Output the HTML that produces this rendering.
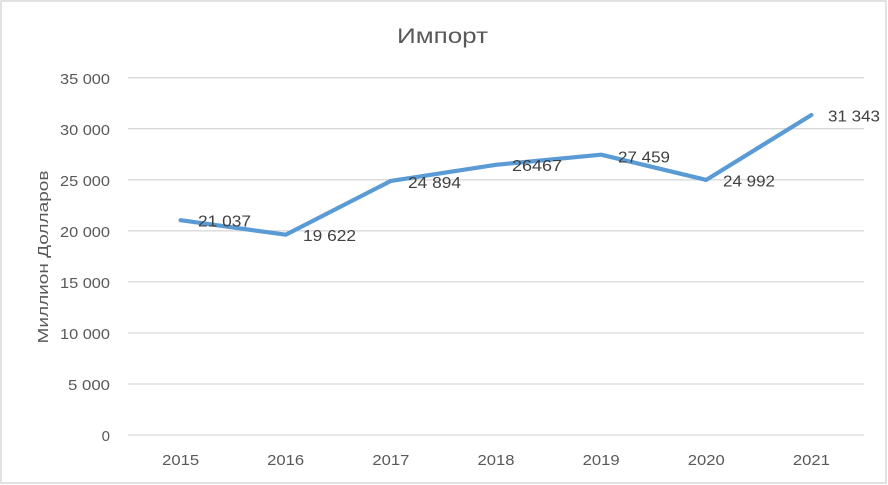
<!DOCTYPE html>
<html><head><meta charset="utf-8"><style>
html,body{margin:0;padding:0;background:#fff;}
svg{display:block;}
text{font-family:"Liberation Sans","DejaVu Sans",sans-serif;}
</style></head><body>
<svg width="888" height="485" viewBox="0 0 888 485" xmlns="http://www.w3.org/2000/svg">
<rect x="0" y="0" width="888" height="485" fill="#fff"/>
<rect x="1" y="1" width="885" height="482" fill="none" stroke="#d9d9d9" stroke-width="1.5"/>
<text x="442.5" y="43" text-anchor="middle" font-size="21" fill="#595959" textLength="91" lengthAdjust="spacingAndGlyphs">Импорт</text>
<g stroke="#d9d9d9" stroke-width="1.3">
<line x1="128" y1="435" x2="864" y2="435"/>
<line x1="128" y1="384" x2="864" y2="384"/>
<line x1="128" y1="333" x2="864" y2="333"/>
<line x1="128" y1="281.9" x2="864" y2="281.9"/>
<line x1="128" y1="230.8" x2="864" y2="230.8"/>
<line x1="128" y1="179.8" x2="864" y2="179.8"/>
<line x1="128" y1="128.7" x2="864" y2="128.7"/>
<line x1="128" y1="77.7" x2="864" y2="77.7"/>
</g>
<g font-size="15" fill="#595959" text-anchor="end">
<text x="110" y="441">0</text>
<text x="110" y="390" textLength="42" lengthAdjust="spacingAndGlyphs">5 000</text>
<text x="110" y="339" textLength="50" lengthAdjust="spacingAndGlyphs">10 000</text>
<text x="110" y="288" textLength="50" lengthAdjust="spacingAndGlyphs">15 000</text>
<text x="110" y="237" textLength="50" lengthAdjust="spacingAndGlyphs">20 000</text>
<text x="110" y="186" textLength="50" lengthAdjust="spacingAndGlyphs">25 000</text>
<text x="110" y="135" textLength="50" lengthAdjust="spacingAndGlyphs">30 000</text>
<text x="110" y="84" textLength="50" lengthAdjust="spacingAndGlyphs">35 000</text>
</g>
<g font-size="15" fill="#595959" text-anchor="middle">
<text x="180.6" y="465" textLength="37" lengthAdjust="spacingAndGlyphs">2015</text>
<text x="285.7" y="465" textLength="37" lengthAdjust="spacingAndGlyphs">2016</text>
<text x="390.9" y="465" textLength="37" lengthAdjust="spacingAndGlyphs">2017</text>
<text x="496" y="465" textLength="37" lengthAdjust="spacingAndGlyphs">2018</text>
<text x="601.1" y="465" textLength="37" lengthAdjust="spacingAndGlyphs">2019</text>
<text x="706.3" y="465" textLength="37" lengthAdjust="spacingAndGlyphs">2020</text>
<text x="811.4" y="465" textLength="37" lengthAdjust="spacingAndGlyphs">2021</text>
</g>
<text transform="translate(48,257) rotate(-90)" text-anchor="middle" font-size="15" fill="#595959" textLength="173" lengthAdjust="spacingAndGlyphs">Миллион Долларов</text>
<polyline points="180.6,220.2 285.7,234.7 390.9,180.9 496,164.8 601.1,154.7 706.3,179.9 811.4,115" fill="none" stroke="#5b9bd5" stroke-width="4.2" stroke-linejoin="round" stroke-linecap="round"/>
<g font-size="16" fill="#404040">
<text x="198" y="226.5" textLength="53" lengthAdjust="spacingAndGlyphs">21 037</text>
<text x="303" y="241" textLength="53" lengthAdjust="spacingAndGlyphs">19 622</text>
<text x="408" y="188" textLength="53" lengthAdjust="spacingAndGlyphs">24 894</text>
<text x="512" y="171" textLength="50" lengthAdjust="spacingAndGlyphs">26467</text>
<text x="618" y="162.5" textLength="52" lengthAdjust="spacingAndGlyphs">27 459</text>
<text x="723" y="186.5" textLength="52" lengthAdjust="spacingAndGlyphs">24 992</text>
<text x="828" y="121.5" textLength="52" lengthAdjust="spacingAndGlyphs">31 343</text>
</g>
</svg>
</body></html>
